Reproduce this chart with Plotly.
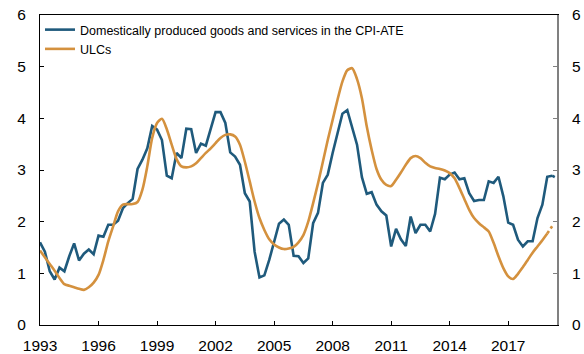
import plotly.graph_objects as go

start_year = 1993
tick_years = [1993, 1996, 1999, 2002, 2005, 2008, 2011, 2014, 2017]
y_ticks = [0, 1, 2, 3, 4, 5, 6]

cpi_ate_domestic = [
    1.60, 1.42, 1.04, 0.88,
    1.11, 1.04, 1.33, 1.58,
    1.25, 1.38, 1.46, 1.37,
    1.73, 1.71, 1.94, 1.94,
    2.02, 2.26, 2.36, 2.44,
    3.02, 3.20, 3.42, 3.85,
    3.78, 3.58, 2.89, 2.84,
    3.33, 3.23, 3.80, 3.79,
    3.33, 3.51, 3.47, 3.81,
    4.12, 4.12, 3.91, 3.34,
    3.26, 3.10, 2.55, 2.39,
    1.42, 0.92, 0.96, 1.26,
    1.60, 1.96, 2.04, 1.94,
    1.34, 1.33, 1.20, 1.29,
    1.97, 2.17, 2.75, 2.91,
    3.33, 3.71, 4.09, 4.16,
    3.83, 3.49, 2.86, 2.54,
    2.57, 2.33, 2.20, 2.12,
    1.52, 1.86, 1.66, 1.53,
    2.10, 1.78, 1.94, 1.94,
    1.81, 2.15, 2.85, 2.82,
    2.91, 2.95, 2.82, 2.84,
    2.55, 2.40, 2.42, 2.42,
    2.78, 2.75, 2.87, 2.49,
    1.98, 1.94, 1.65, 1.52,
    1.62, 1.62, 2.07, 2.33,
    2.87, 2.89, 2.84,
]

ulcs = [
    1.44, 1.31, 1.18, 1.05,
    0.91, 0.79, 0.76, 0.73,
    0.70, 0.68, 0.73, 0.82,
    0.97, 1.26, 1.62, 1.91,
    2.20, 2.33, 2.34, 2.34,
    2.38, 2.62, 3.07, 3.62,
    3.91, 3.99, 3.79, 3.49,
    3.21, 3.07, 3.05, 3.07,
    3.13, 3.23, 3.33, 3.42,
    3.52, 3.62, 3.68, 3.69,
    3.65, 3.49, 3.16, 2.78,
    2.39, 2.07, 1.84, 1.66,
    1.56, 1.50, 1.47, 1.48,
    1.51, 1.60, 1.74, 2.00,
    2.36, 2.74, 3.16, 3.58,
    3.97, 4.36, 4.71, 4.93,
    4.97, 4.76, 4.39, 3.84,
    3.39, 3.02, 2.81, 2.71,
    2.69, 2.81, 2.95, 3.10,
    3.23, 3.27, 3.23, 3.14,
    3.07, 3.04, 3.02, 2.99,
    2.94, 2.84, 2.65, 2.44,
    2.23, 2.07, 1.97, 1.89,
    1.81, 1.59, 1.33, 1.10,
    0.94, 0.89, 0.99, 1.12,
    1.26, 1.40, 1.52, 1.64,
    1.77, 1.91,
]

BLUE = "#1f5a7c"
ORANGE = "#d4913e"

x_blue = [start_year + i * 0.25 for i in range(len(cpi_ate_domestic))]
x_orange = [start_year + i * 0.25 for i in range(len(ulcs))]

fig = go.Figure()
fig.add_trace(go.Scatter(
    x=x_blue[:-1], y=cpi_ate_domestic[:-1], mode="lines",
    name="Domestically produced goods and services in the CPI-ATE",
    line=dict(color=BLUE, width=2.6)))
fig.add_trace(go.Scatter(
    x=x_blue[-2:], y=cpi_ate_domestic[-2:], mode="lines", showlegend=False,
    line=dict(color=BLUE, width=2.6, dash="dot")))
fig.add_trace(go.Scatter(
    x=x_orange[:-1], y=ulcs[:-1], mode="lines", name="ULCs",
    line=dict(color=ORANGE, width=2.6, shape="spline", smoothing=0.7)))
fig.add_trace(go.Scatter(
    x=x_orange[-2:], y=ulcs[-2:], mode="lines", showlegend=False,
    line=dict(color=ORANGE, width=2.6, dash="dot")))
# invisible trace to activate right axis
fig.add_trace(go.Scatter(x=[start_year], y=[0], yaxis="y2", mode="lines",
                         showlegend=False, hoverinfo="skip",
                         line=dict(color="rgba(0,0,0,0)")))

FONT = "Liberation Sans, Arial, sans-serif"

fig.update_layout(
    width=584, height=354,
    margin=dict(l=40, r=27, t=15, b=29, autoexpand=False),
    paper_bgcolor="white", plot_bgcolor="white",
    font=dict(family=FONT, color="black"),
    showlegend=True,
    legend=dict(x=0.0, y=1.0, xanchor="left", yanchor="top",
                bgcolor="rgba(0,0,0,0)", font=dict(size=12.5, family=FONT),
                tracegroupgap=0),
    xaxis=dict(range=[1993, 2019.5], tickmode="array", tickvals=tick_years,
               ticktext=[str(t) for t in tick_years], automargin=False,
               showgrid=False, zeroline=False, showline=True,
               linecolor="black", linewidth=1.3, mirror=True,
               ticks="inside", ticklen=4, tickcolor="black",
               tickfont=dict(size=15.5), ticklabelstandoff=6,
               ticklabeloverflow="allow"),
    yaxis=dict(range=[0, 6], tickvals=y_ticks, showgrid=False, zeroline=False,
               automargin=False,
               showline=True, linecolor="black", linewidth=1.3,
               ticks="inside", ticklen=4, tickcolor="black",
               tickfont=dict(size=15.5), ticklabelstandoff=10,
               ticklabeloverflow="allow"),
    yaxis2=dict(range=[0, 6], tickvals=y_ticks, overlaying="y", side="right",
                automargin=False,
                showgrid=False, zeroline=False, showline=True,
                linecolor="#808080", linewidth=2,
                ticks="inside", ticklen=4, tickcolor="#808080",
                tickfont=dict(size=15.5), ticklabelstandoff=10,
                ticklabeloverflow="allow"),
)

fig.write_html(
    "out.html",
    config={"displayModeBar": False},
    post_script="document.body.style.margin='0';document.body.style.overflow='hidden';",
)
